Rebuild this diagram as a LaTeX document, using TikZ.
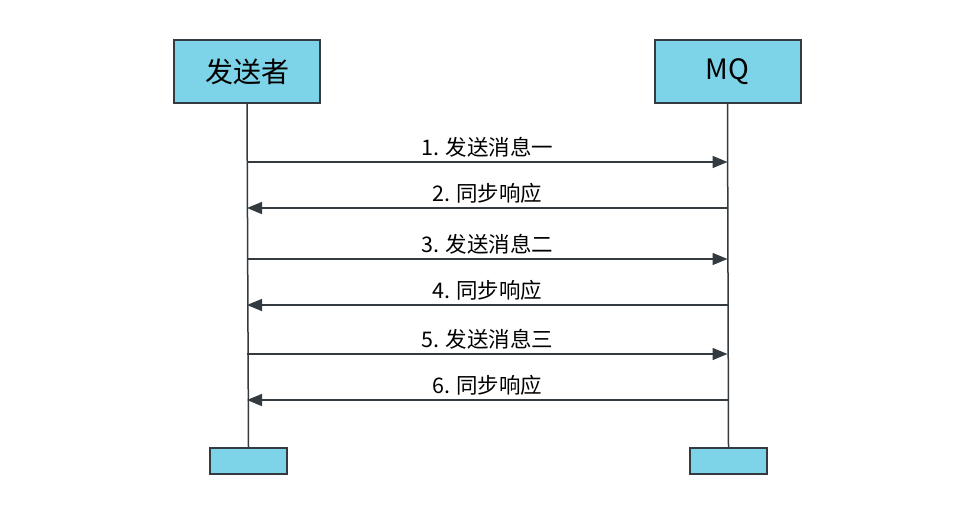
\documentclass[tikz,border=0pt]{standalone}
\usepackage{fontspec}
\setmainfont{Noto Sans CJK SC}
\usetikzlibrary{arrows.meta}
\definecolor{boxfill}{HTML}{7DD3E7}
\definecolor{linec}{HTML}{333B40}
\begin{document}
\begin{tikzpicture}[x=1pt,y=-1pt,
  head/.style={draw=linec,line width=2pt,fill=boxfill,minimum width=146pt,minimum height=63pt,inner sep=0pt,font=\fontsize{28}{32}\selectfont},
  foot/.style={draw=linec,line width=2pt,fill=boxfill,minimum width=77pt,minimum height=26pt,inner sep=0pt},
  life/.style={draw=linec,line width=1.5pt},
  msg/.style={draw=linec,line width=1.5pt,-{Triangle[length=15pt,width=12pt]}},
  lbl/.style={font=\fontsize{21.5}{24}\selectfont,inner sep=0pt}]
\useasboundingbox[fill=white] (0,0) rectangle (980,512);
\node[head] (s) at (247,71.5) {发送者};
\node[head] (m) at (727.5,71.5) {MQ};
\node[foot] (sf) at (248.5,461) {};
\node[foot] (mf) at (728.5,461) {};
\draw[life] (s.south) -- (sf.north);
\draw[life] (m.south) -- (mf.north);
\foreach \y/\t/\d in {162/1. 发送消息一/r, 208/2. 同步响应/l, 259/3. 发送消息二/r, 305/4. 同步响应/l, 354/5. 发送消息三/r, 400/6. 同步响应/l}{
  \coordinate (a\y) at (s.south |- 0,\y);
  \coordinate (b\y) at (m.south |- 0,\y);
  \if r\d
    \draw[msg] (a\y) -- (b\y) node[midway,above=4pt,lbl] {\t};
  \else
    \draw[msg] (b\y) -- (a\y) node[midway,above=4pt,lbl] {\t};
  \fi
}
\end{tikzpicture}
\end{document}
